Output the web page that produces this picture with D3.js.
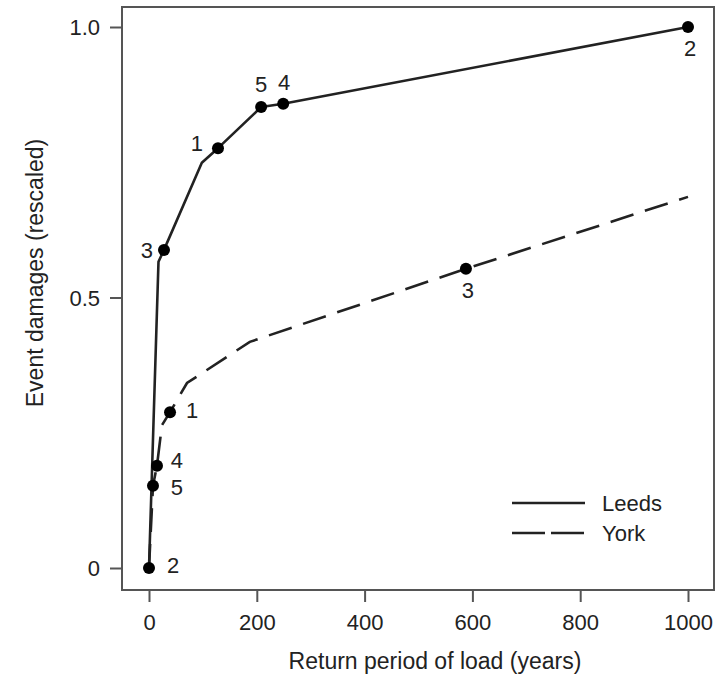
<!DOCTYPE html>
<html>
<head>
<meta charset="utf-8">
<script src="https://cdn.jsdelivr.net/npm/d3@7"></script>
<style>
  body { margin: 0; background: #fff; }
  text { font-family: "Liberation Sans", Arial, sans-serif; fill: #222; }
</style>
</head>
<body>
<svg id="chart"></svg>
<script>
// line vertices
const leedsX = [0, 17.6, 27.8, 98, 128, 208, 249, 1000];
const leedsY = [0, 0.566, 0.588, 0.749, 0.776, 0.852, 0.858, 1.0];
const yorkX = [0, 7.4, 14.8, 24, 39, 70.5, 187, 588, 1000];
const yorkY = [0, 0.152, 0.189, 0.264, 0.288, 0.342, 0.418, 0.553, 0.686];

// numbered events
const leedsEvents = ["3", "1", "5", "4", "2"];
const leedsEventX = [27.8, 128, 208, 249, 1000];
const leedsEventY = [0.588, 0.776, 0.852, 0.858, 1.0];
const yorkEvents = ["2", "5", "4", "1", "3"];
const yorkEventX = [0, 7.4, 14.8, 39, 588];
const yorkEventY = [0, 0.152, 0.189, 0.288, 0.553];

const xTicks = [0, 200, 400, 600, 800, 1000];
const yTicks = [0, 0.5, 1.0];
const yTickLabels = ["0", "0.5", "1.0"];
const seriesNames = ["Leeds", "York"];

// label offsets (px) for the event numbers
const leedsLabelOffset = [[-17, 0], [-21, -5], [0, -23], [1, -22], [2, 21]];
const yorkLabelOffset = [[24, -3], [24, 1], [20, -6], [22, -2], [2, 21]];

const width = 722, height = 677;
const box = { left: 122, top: 7, right: 714, bottom: 590 };
const ink = "#222";

const svg = d3.select("#chart").attr("width", width).attr("height", height);

const x = d3.scaleLinear().domain([0, 1000]).range([149, 688]);
const y = d3.scaleLinear().domain([0, 1]).range([568, 27]);

// frame
svg.append("rect")
  .attr("x", box.left).attr("y", box.top)
  .attr("width", box.right - box.left).attr("height", box.bottom - box.top)
  .attr("fill", "none").attr("stroke", "#555").attr("stroke-width", 2);

// axes
const xAxis = svg.append("g")
  .attr("transform", `translate(0,${box.bottom})`)
  .call(d3.axisBottom(x).tickValues(xTicks).tickSize(12).tickPadding(12).tickFormat(d3.format("d")));
const yAxis = svg.append("g")
  .attr("transform", `translate(${box.left},0)`)
  .call(d3.axisLeft(y).tickValues(yTicks).tickSize(12).tickPadding(10)
    .tickFormat((d, i) => yTickLabels[i]));

[xAxis, yAxis].forEach(g => {
  g.select(".domain").remove();
  g.selectAll(".tick line").attr("stroke", "#555").attr("stroke-width", 2);
  g.selectAll(".tick text").attr("font-size", 22).attr("fill", ink)
    .style("font-family", "'Liberation Sans', Arial, sans-serif");
});
yAxis.selectAll(".tick text").attr("dy", "0.35em");

svg.append("text")
  .attr("x", 435).attr("y", 669)
  .attr("text-anchor", "middle").attr("font-size", 23)
  .text("Return period of load (years)");

svg.append("text")
  .attr("transform", "translate(43,273) rotate(-90)")
  .attr("text-anchor", "middle").attr("font-size", 23)
  .text("Event damages (rescaled)");

// lines
const line = d3.line().x(d => x(d[0])).y(d => y(d[1]));

svg.append("path")
  .datum(d3.zip(leedsX, leedsY))
  .attr("d", line)
  .attr("fill", "none").attr("stroke", ink).attr("stroke-width", 2.6)
  .attr("stroke-linejoin", "round");

svg.append("path")
  .datum(d3.zip(yorkX, yorkY))
  .attr("d", line)
  .attr("fill", "none").attr("stroke", ink).attr("stroke-width", 2.6)
  .attr("stroke-dasharray", "24,12");

function drawEvents(names, xs, ys, offsets) {
  const data = names.map((n, i) => ({ name: n, x: xs[i], y: ys[i], off: offsets[i] }));
  const g = svg.append("g");
  g.selectAll("circle").data(data).join("circle")
    .attr("cx", d => x(d.x)).attr("cy", d => y(d.y))
    .attr("r", 6).attr("fill", "#000");
  g.selectAll("text").data(data).join("text")
    .attr("x", d => x(d.x) + d.off[0]).attr("y", d => y(d.y) + d.off[1])
    .attr("text-anchor", "middle").attr("dy", "0.36em")
    .attr("font-size", 22)
    .text(d => d.name);
}
drawEvents(leedsEvents, leedsEventX, leedsEventY, leedsLabelOffset);
drawEvents(yorkEvents, yorkEventX, yorkEventY, yorkLabelOffset);

// legend
const legend = svg.append("g").attr("transform", "translate(512,503)");
seriesNames.forEach((name, i) => {
  legend.append("line")
    .attr("x1", 0).attr("x2", 73).attr("y1", i * 30).attr("y2", i * 30)
    .attr("stroke", ink).attr("stroke-width", 2.6)
    .attr("stroke-dasharray", i === 0 ? null : "33,6");
  legend.append("text")
    .attr("x", 90).attr("y", i * 30).attr("dy", "0.36em")
    .attr("font-size", 22)
    .text(name);
});
</script>
</body>
</html>
